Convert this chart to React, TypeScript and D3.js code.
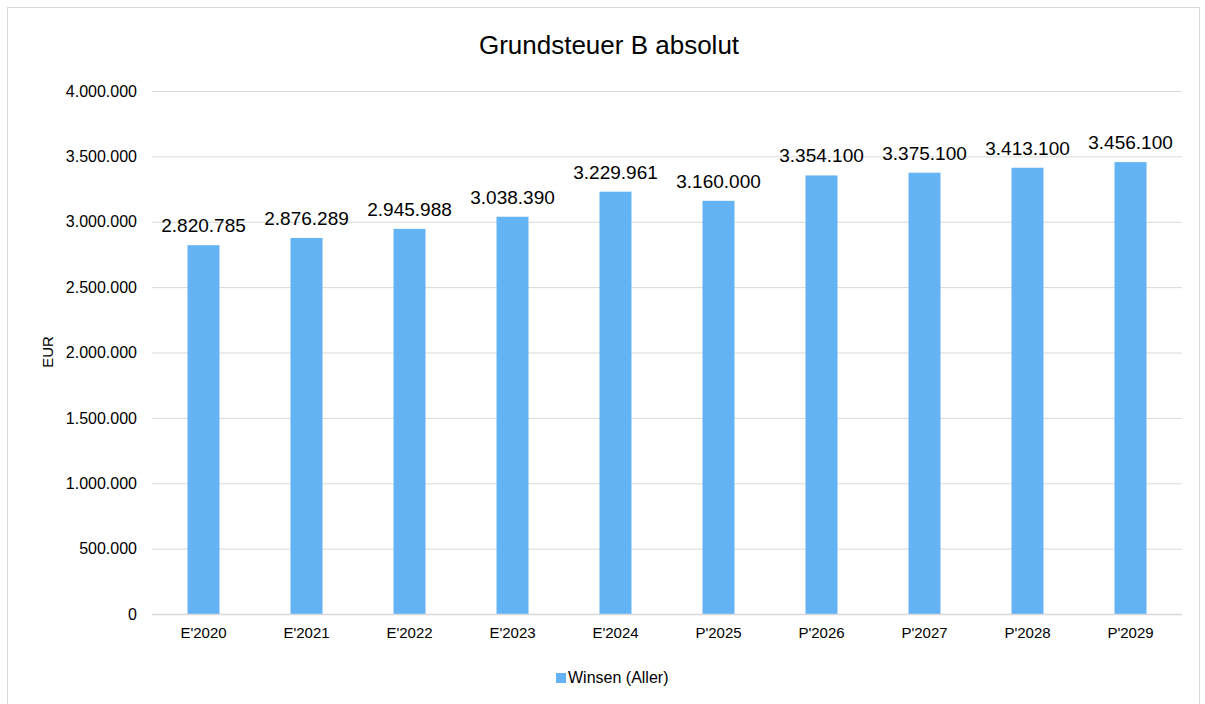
import { useRef, useEffect } from 'react'
import * as d3 from 'd3'

const categories = ["E'2020", "E'2021", "E'2022", "E'2023", "E'2024", "P'2025", "P'2026", "P'2027", "P'2028", "P'2029"]
const values = [2820785, 2876289, 2945988, 3038390, 3229961, 3160000, 3354100, 3375100, 3413100, 3456100]
const yTicks = [0, 500000, 1000000, 1500000, 2000000, 2500000, 3000000, 3500000, 4000000]
const seriesName = 'Winsen (Aller)'
const title = 'Grundsteuer B absolut'
const yAxisLabel = 'EUR'

const barColor = '#63b3f5'
const gridColor = '#d9d9d9'
const font = '"Liberation Sans", Arial, sans-serif'

const fmt = (n: number) => d3.format(',')(n).replace(/,/g, '.')

const App = () => {
  const svgRef = useRef<SVGSVGElement>(null)

  useEffect(() => {
    const svg = d3.select(svgRef.current)
    svg.selectAll('*').remove()

    const margin = { top: 91, right: 23, bottom: 90, left: 152 }
    const width = 1205
    const height = 704
    const innerWidth = width - margin.left - margin.right
    const innerHeight = height - margin.top - margin.bottom

    // outer frame
    svg
      .append('rect')
      .attr('x', 7.5)
      .attr('y', 7.5)
      .attr('width', 1192)
      .attr('height', 710)
      .attr('fill', 'white')
      .attr('stroke', gridColor)

    svg
      .append('text')
      .text(title)
      .attr('x', 609)
      .attr('y', 54)
      .attr('text-anchor', 'middle')
      .attr('font-family', font)
      .attr('font-size', 26)
      .attr('fill', '#000')

    const g = svg.append('g').attr('transform', `translate(${margin.left} ${margin.top})`)

    const xScale = d3.scaleBand().domain(categories).range([0, innerWidth])
    const yScale = d3.scaleLinear().domain([0, 4000000]).range([innerHeight, 0])

    const yAxis = d3
      .axisLeft(yScale)
      .tickValues(yTicks)
      .tickSize(-innerWidth)
      .tickPadding(15)
      .tickFormat((d) => fmt(d as number))

    const yAxisGroup = g.append('g').call(yAxis)
    yAxisGroup.select('.domain').remove()
    yAxisGroup.selectAll('.tick line').attr('stroke', gridColor)
    yAxisGroup
      .selectAll('.tick text')
      .attr('font-family', font)
      .attr('font-size', 16)
      .attr('fill', '#000')

    const barWidth = 32
    g.selectAll('rect.bar')
      .data(values)
      .join('rect')
      .attr('class', 'bar')
      .attr('x', (_, i) => xScale(categories[i])! + xScale.bandwidth() / 2 - barWidth / 2)
      .attr('y', (d) => yScale(d))
      .attr('width', barWidth)
      .attr('height', (d) => innerHeight - yScale(d))
      .attr('fill', barColor)

    g.selectAll('text.label')
      .data(values)
      .join('text')
      .attr('class', 'label')
      .text((d) => fmt(d))
      .attr('x', (_, i) => xScale(categories[i])! + xScale.bandwidth() / 2)
      .attr('y', (d) => yScale(d) - 13)
      .attr('text-anchor', 'middle')
      .attr('font-family', font)
      .attr('font-size', 19)
      .attr('fill', '#000')

    // baseline
    g.append('line')
      .attr('x1', 0)
      .attr('x2', innerWidth)
      .attr('y1', innerHeight + 0.5)
      .attr('y2', innerHeight + 0.5)
      .attr('stroke', gridColor)
      .attr('stroke-width', 1.5)

    const xAxisGroup = g
      .append('g')
      .attr('transform', `translate(0, ${innerHeight})`)
      .call(d3.axisBottom(xScale).tickSize(0).tickPadding(13))
    xAxisGroup.select('.domain').remove()
    xAxisGroup
      .selectAll('.tick text')
      .attr('font-family', font)
      .attr('font-size', 15)
      .attr('fill', '#000')

    svg
      .append('text')
      .text(yAxisLabel)
      .attr('transform', `translate(53, 352) rotate(-90)`)
      .attr('text-anchor', 'middle')
      .attr('font-family', font)
      .attr('font-size', 15)
      .attr('fill', '#000')

    // legend
    const legend = svg.append('g').attr('transform', 'translate(556, 673)')
    legend.append('rect').attr('width', 10).attr('height', 10).attr('fill', barColor)
    legend
      .append('text')
      .text(seriesName)
      .attr('x', 12)
      .attr('y', 10)
      .attr('font-family', font)
      .attr('font-size', 16)
      .attr('fill', '#000')
  }, [])

  return (
    <div>
      <svg
        ref={svgRef}
        width={1205}
        height={704}
        style={{ position: 'absolute', left: 0, top: 0, display: 'block' }}
      ></svg>
    </div>
  )
}

export default App
